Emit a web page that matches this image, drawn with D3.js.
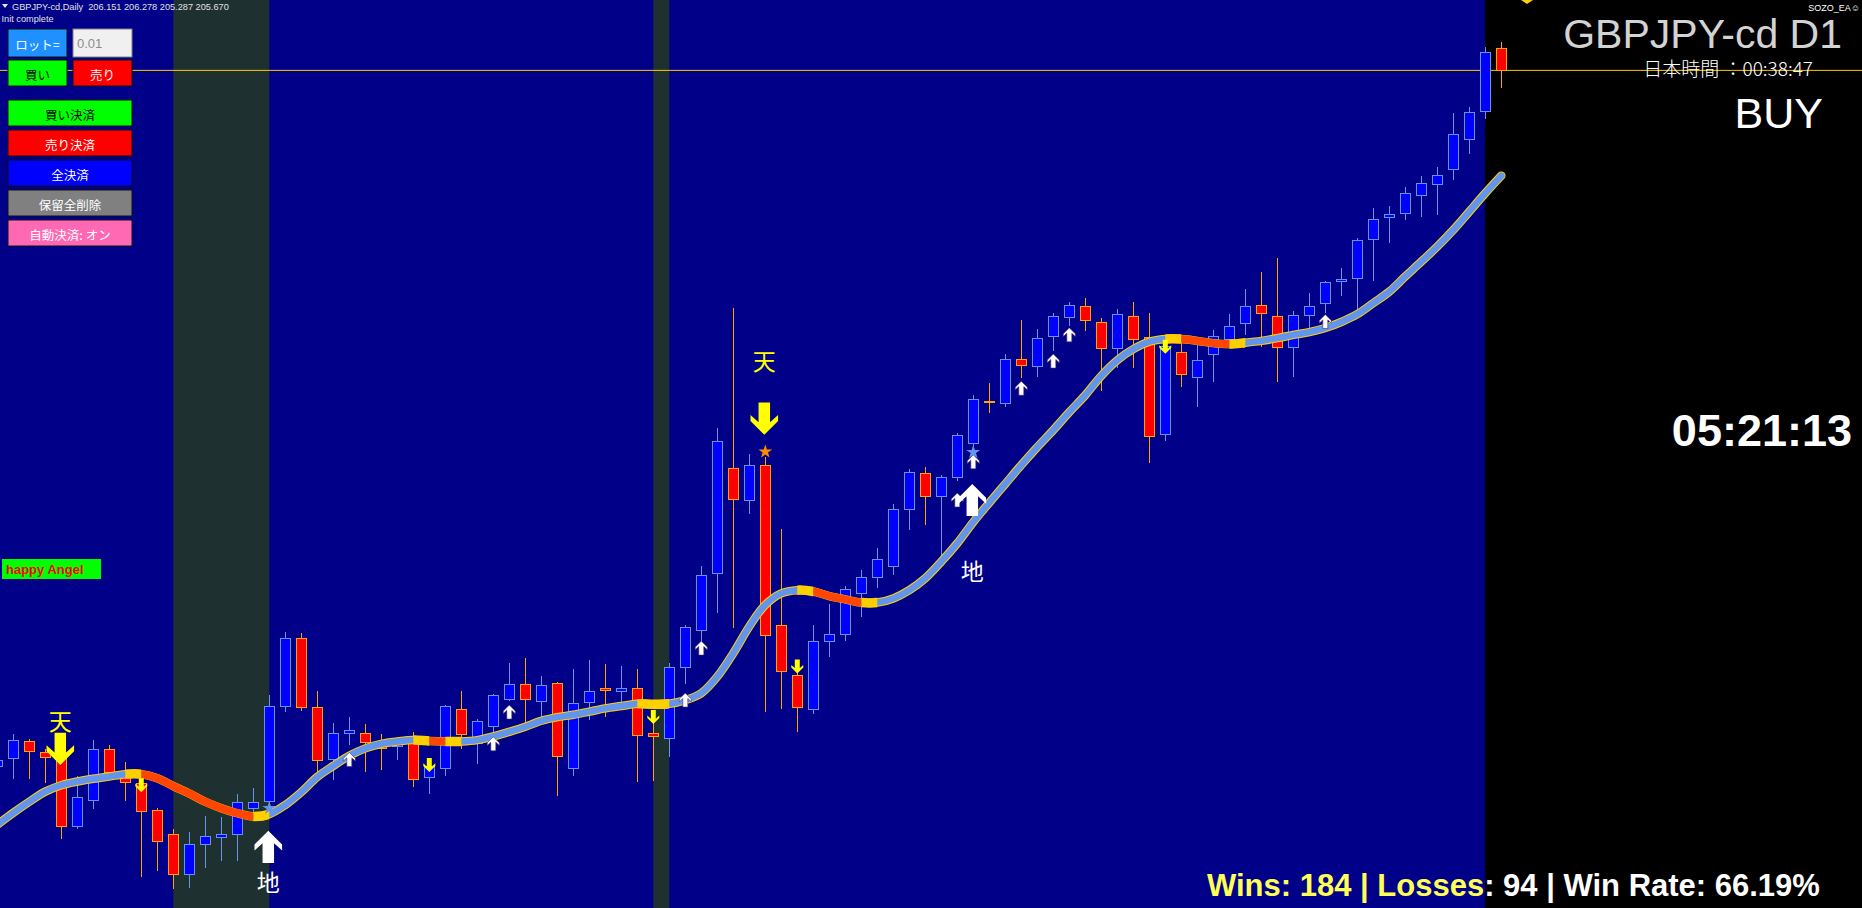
<!DOCTYPE html>
<html><head><meta charset="utf-8">
<script src="https://cdn.jsdelivr.net/npm/d3@7"></script>
<style>
html,body{margin:0;padding:0;background:#000;overflow:hidden;}
svg{display:block;}
</style></head><body>
<svg id="c" width="1862" height="908"></svg>
<script>
// ---------------- DATA ----------------
const symbolTitle = "GBPJPY-cd,Daily";
const lastOHLC = ["206.151", "206.278", "205.287", "205.670"];
const bidPrice = 205.670;
const firstBar = -1, lastBar = 93;
const opens = [190.53,190.71,191.09,190.85,190.72,189.23,189.80,190.91,190.32,190.17,189.58,189.06,188.19,188.85,189.00,189.06,189.63,189.78,191.85,193.32,191.82,190.69,191.26,191.26,191.08,190.97,191.04,190.30,190.50,191.78,191.04,191.40,192.00,192.32,191.95,192.35,190.50,191.93,192.24,192.17,192.24,191.26,191.15,192.69,193.50,194.74,197.02,196.32,197.09,193.61,192.52,191.78,193.26,193.41,194.30,194.65,194.89,196.13,196.91,196.41,196.82,197.56,198.48,198.43,199.39,199.24,199.89,200.30,200.54,200.19,199.63,200.32,199.87,197.76,199.54,199.00,199.50,199.82,200.17,200.56,200.32,199.65,200.35,200.60,201.08,201.15,202.00,202.48,202.56,202.95,203.19,203.52,204.17,204.78,206.151];
const highs = [190.74,191.24,191.13,190.92,190.85,190.32,191.11,191.00,190.63,190.26,189.63,189.18,189.11,189.45,189.43,189.93,190.06,192.08,193.46,193.44,192.18,191.48,191.61,191.46,191.24,191.16,191.29,190.55,191.87,192.18,191.57,192.11,192.79,192.89,192.50,192.37,192.66,192.85,192.77,192.72,192.66,191.55,192.79,193.61,194.90,197.89,200.50,197.33,197.27,195.69,192.79,193.61,194.06,194.46,194.81,195.28,196.24,197.00,197.04,196.87,197.79,198.61,198.87,199.50,200.24,200.04,200.40,200.63,200.72,200.28,200.48,200.63,200.39,199.91,199.87,199.70,200.02,200.37,200.92,201.29,201.59,200.43,200.83,201.09,201.37,202.02,202.67,202.72,203.13,203.37,203.56,204.74,204.87,206.17,206.278];
const lows = [190.40,190.27,190.27,190.17,188.95,189.17,189.62,190.24,189.78,188.14,188.27,187.87,187.89,188.32,188.49,188.49,189.55,189.59,191.73,191.75,190.40,190.24,191.00,190.42,190.46,190.68,190.08,189.94,190.34,190.92,190.59,191.29,191.95,191.48,191.62,189.90,190.34,191.55,191.61,191.82,190.21,190.23,190.75,192.33,193.25,193.88,193.54,196.02,191.72,191.78,191.28,191.67,192.91,193.26,193.78,194.41,194.69,195.67,195.78,195.10,196.74,197.45,198.22,198.35,198.98,199.01,199.58,200.12,200.01,198.71,199.19,199.19,197.14,197.62,198.79,198.35,198.89,199.74,199.91,199.65,198.89,199.01,200.06,200.40,200.77,200.46,201.10,201.92,202.41,202.49,202.53,203.28,203.86,204.61,205.287];
const closes = [190.66,191.11,190.87,190.74,189.24,189.87,190.91,190.40,190.19,189.56,188.91,188.19,188.85,189.02,189.06,189.76,189.76,191.85,193.32,191.82,190.67,191.26,191.31,191.05,190.92,191.11,190.26,190.53,191.85,191.23,191.52,192.08,192.32,192.00,192.30,190.76,191.91,192.17,192.19,192.24,191.22,191.19,192.69,193.56,194.69,197.61,196.35,197.09,193.39,192.61,191.82,193.26,193.41,194.39,194.65,195.04,196.13,196.93,196.41,196.82,197.74,198.52,198.45,199.39,199.26,199.85,200.32,200.56,200.24,199.63,200.37,199.82,197.72,199.66,199.06,199.37,199.89,200.11,200.54,200.39,199.65,200.35,200.54,201.06,201.13,201.98,202.43,202.54,203.00,203.22,203.39,204.28,204.76,206.06,205.670];
const maValues = [189.27,189.53,189.77,189.99,190.13,190.21,190.27,190.32,190.37,190.37,190.28,190.11,189.95,189.77,189.63,189.52,189.45,189.50,189.70,189.98,190.31,190.55,190.77,190.93,191.03,191.08,191.11,191.09,191.08,191.08,191.11,191.19,191.29,191.40,191.53,191.61,191.66,191.73,191.80,191.85,191.90,191.89,191.90,191.98,192.13,192.49,193.00,193.58,194.05,194.30,194.37,194.34,194.24,194.17,194.10,194.10,194.19,194.37,194.63,194.99,195.39,195.85,196.27,196.68,197.09,197.48,197.85,198.24,198.61,199.03,199.37,199.61,199.77,199.83,199.83,199.79,199.74,199.72,199.75,199.79,199.85,199.92,199.98,200.07,200.20,200.37,200.61,200.86,201.19,201.51,201.84,202.20,202.60,203.00,203.38];
const maFlatBars = [8,16,26,28,40,41,50,54,73,77];
const maDownBars = [9,10,11,12,13,14,15,27,51,52,53,74,75,76];
const shadeBands = [[10,16],[40,41]];
const smallUpBars = [21,30,31,42,43,59,60,63,65,66,82];
const smallUpPrices = [190.69,191.03,191.72,191.98,193.11,196.33,197.16,198.76,199.35,199.92,200.21];
const smallDownBars = [8,26,40,49,72];
const smallDownPrices = [190.13,190.57,191.61,192.71,199.66];
const bigDownBars = [3,47];
const bigDownPrices = [190.92,198.10];
const tenLabelPrices = [191.55,199.37];
const bigUpBars = [16,60];
const bigUpPrices = [188.79,196.33];
const chiLabelPrices = [188.04,194.81];
const starBars = [16,47,60];
const starPrices = [189.63,197.38,197.37];
const starKinds = ["buy","sell","buy"];
const buttonLabels = ["ロット=","買い","売り","買い決済","売り決済","全決済","保留全削除","自動決済: オン"];
const lotValue = "0.01";
const statsText = "Wins: 184 | Losses: 94 | Win Rate: 66.19%";
const countdown = "05:21:13";
const titleText = "GBPJPY-cd D1";
const jpTime = "日本時間 ：00:38:47";
const signalText = "BUY";

// ---------------- DRAW ----------------
const W = 1862, H = 908;
const svg = d3.select('#c');
const x = d3.scaleLinear().domain([-1, 93]).range([-2.7, 1501.3]);
const y = d3.scaleLinear().domain([187.46, 207.20]).range([H, 0]);
const panelX = 1485;

svg.append('rect').attr('width', W).attr('height', H).attr('fill', '#000088');
svg.append('rect').attr('x', panelX).attr('width', W - panelX).attr('height', H).attr('fill', '#000000');

// shaded bands
svg.append('g').selectAll('rect').data(shadeBands).join('rect')
  .attr('x', d => x(d[0])).attr('width', d => x(d[1]) - x(d[0]))
  .attr('y', 0).attr('height', H).attr('fill', '#1e3030');

// bid line
svg.append('line').attr('x1', 0).attr('x2', W).attr('y1', y(bidPrice)).attr('y2', y(bidPrice))
  .attr('stroke', '#ffc800').attr('stroke-width', 1);

// candles
const bars = d3.range(firstBar, lastBar + 1).map((b, k) => ({b, o: opens[k], h: highs[k], l: lows[k], c: closes[k]}));
const cg = svg.append('g').attr('shape-rendering', 'crispEdges');
cg.selectAll('line').data(bars).join('line')
  .attr('x1', d => Math.round(x(d.b)) + 0.5).attr('x2', d => Math.round(x(d.b)) + 0.5)
  .attr('y1', d => y(d.h)).attr('y2', d => y(d.l))
  .attr('stroke', d => d.c >= d.o ? '#6495ed' : '#ffa500');
cg.selectAll('rect').data(bars).join('rect')
  .attr('x', d => Math.round(x(d.b)) - 4.5).attr('width', 10)
  .attr('y', d => y(Math.max(d.o, d.c)))
  .attr('height', d => Math.max(1, Math.abs(y(d.o) - y(d.c))))
  .attr('fill', d => d.c >= d.o ? '#0000ff' : '#ff0000')
  .attr('stroke', d => d.c >= d.o ? '#6495ed' : '#ffa500').attr('stroke-width', 1);

// moving average
const maPts = d3.range(firstBar, lastBar + 1).map((b, k) => ({b, v: maValues[k]}));
const maLine = d3.line().x(d => x(d.b)).y(d => y(d.v)).curve(d3.curveCatmullRom);
const defs = svg.append('defs');
function clipFor(id, list) {
  const cp = defs.append('clipPath').attr('id', id);
  list.forEach(b => cp.append('rect').attr('x', x(b - 1)).attr('width', x(b) - x(b - 1)).attr('y', 0).attr('height', H));
}
clipFor('clipFlat', maFlatBars);
clipFor('clipDown', maDownBars);
const mg = svg.append('g').attr('fill', 'none').attr('stroke-linecap', 'round').attr('stroke-linejoin', 'round');
mg.append('path').attr('d', maLine(maPts)).attr('stroke', '#ffd000').attr('stroke-width', 8.5);
mg.append('path').attr('d', maLine(maPts)).attr('stroke', '#6495ed').attr('stroke-width', 6.5);
mg.append('path').attr('d', maLine(maPts)).attr('stroke', '#ffd000').attr('stroke-width', 9.5).attr('clip-path', 'url(#clipFlat)').attr('stroke-linecap', 'butt');
mg.append('path').attr('d', maLine(maPts)).attr('stroke', '#ff4500').attr('stroke-width', 8).attr('clip-path', 'url(#clipDown)').attr('stroke-linecap', 'butt');

// arrows
function arrowPath(s) {
  return `M0,${-7*s} L${6*s},${-1*s} L${6*s},${1.6*s} L${2.5*s},${-1.6*s} L${2.5*s},${7*s} L${-2.5*s},${7*s} L${-2.5*s},${-1.6*s} L${-6*s},${1.6*s} L${-6*s},${-1*s} Z`;
}
const ag = svg.append('g');
ag.selectAll('path.su').data(smallUpBars).join('path').attr('class', 'su')
  .attr('d', arrowPath(1)).attr('fill', '#ffffff').attr('stroke', '#3a2a6a').attr('stroke-width', 0.6)
  .attr('transform', (b, i) => `translate(${x(b)},${y(smallUpPrices[i])})`);
ag.selectAll('path.sd').data(smallDownBars).join('path').attr('class', 'sd')
  .attr('d', arrowPath(1)).attr('fill', '#ffff00')
  .attr('transform', (b, i) => `translate(${x(b)},${y(smallDownPrices[i])}) rotate(180)`);
ag.selectAll('path.bu').data(bigUpBars).join('path').attr('class', 'bu')
  .attr('d', arrowPath(2.3)).attr('fill', '#ffffff')
  .attr('transform', (b, i) => `translate(${x(b) - 1},${y(bigUpPrices[i])})`);
ag.selectAll('path.bd').data(bigDownBars).join('path').attr('class', 'bd')
  .attr('d', arrowPath(2.3)).attr('fill', '#ffff00')
  .attr('transform', (b, i) => `translate(${x(b) - 1},${y(bigDownPrices[i])}) rotate(180)`);
ag.selectAll('path.st').data(starBars).join('path').attr('class', 'st')
  .attr('d', d3.symbol(d3.symbolStar, 60)())
  .attr('fill', (b, i) => starKinds[i] === 'sell' ? '#ff8c00' : '#6495ed')
  .attr('transform', (b, i) => `translate(${x(b)},${y(starPrices[i])})`);
ag.selectAll('text.ten').data(bigDownBars).join('text').attr('class', 'ten')
  .attr('x', b => x(b) - 1).attr('y', (b, i) => y(tenLabelPrices[i]))
  .attr('text-anchor', 'middle').attr('dominant-baseline', 'central')
  .attr('font-family', '"Noto Sans CJK JP"').attr('font-size', 23).attr('fill', '#ffff00').text('天');
ag.selectAll('text.chi').data(bigUpBars).join('text').attr('class', 'chi')
  .attr('x', b => x(b) - 1).attr('y', (b, i) => y(chiLabelPrices[i]))
  .attr('text-anchor', 'middle').attr('dominant-baseline', 'central')
  .attr('font-family', '"Noto Sans CJK JP"').attr('font-size', 23).attr('fill', '#ffffff').text('地');
// partially visible marker at top
ag.append('path').attr('d', 'M1521,0 L1533,0 L1527,4 Z').attr('fill', '#ffd000');

// header texts
const hg = svg.append('g').attr('font-family', '"Liberation Sans", Arial, sans-serif');
hg.append('path').attr('d', 'M2,4 L8,4 L5,8 Z').attr('fill', '#e8e8e8');
hg.append('text').attr('x', 12).attr('y', 9.5).attr('font-size', 9.2).attr('fill', '#e0e0e0')
  .attr('xml:space', 'preserve').text(symbolTitle + '  ' + lastOHLC.join(' '));
hg.append('text').attr('x', 1.5).attr('y', 22).attr('font-size', 9.2).attr('fill', '#e0e0e0').text('Init complete');

// buttons
const btns = [
  {x: 8, y: 29, w: 59, h: 28, fill: '#1e90ff', tc: '#ffffff'},
  {x: 8, y: 60, w: 59, h: 26, fill: '#00ff00', tc: '#000000'},
  {x: 73, y: 60, w: 59, h: 26, fill: '#ff0000', tc: '#ffffff'},
  {x: 8, y: 100, w: 124, h: 26, fill: '#00ff00', tc: '#000000'},
  {x: 8, y: 130, w: 124, h: 26, fill: '#ff0000', tc: '#ffffff'},
  {x: 8, y: 160, w: 124, h: 26, fill: '#0000ff', tc: '#ffffff'},
  {x: 8, y: 190, w: 124, h: 26, fill: '#808080', tc: '#ffffff'},
  {x: 8, y: 220, w: 124, h: 26, fill: '#ff69b4', tc: '#ffffff'}
];
const bg = svg.append('g');
btns.forEach((b, i) => {
  bg.append('rect').attr('x', b.x).attr('y', b.y).attr('width', b.w).attr('height', b.h)
    .attr('fill', b.fill).attr('stroke', '#101010').attr('stroke-width', 1);
  bg.append('text').attr('x', b.x + b.w / 2).attr('y', b.y + b.h / 2 + 1)
    .attr('text-anchor', 'middle').attr('dominant-baseline', 'central')
    .attr('font-family', '"Noto Sans CJK JP"').attr('font-size', 12.5).attr('fill', b.tc).text(buttonLabels[i]);
});
bg.append('rect').attr('x', 73).attr('y', 29).attr('width', 59).attr('height', 28)
  .attr('fill', '#f0f0f0').attr('stroke', '#808080').attr('stroke-width', 1);
bg.append('text').attr('x', 77).attr('y', 48).attr('font-family', '"Liberation Sans", Arial').attr('font-size', 13)
  .attr('fill', '#8c8c8c').text(lotValue);

// happy Angel label
svg.append('rect').attr('x', 2).attr('y', 559).attr('width', 99).attr('height', 20).attr('fill', '#00ff00');
svg.append('text').attr('x', 6).attr('y', 574).attr('font-family', '"Liberation Sans", Arial').attr('font-weight', 'bold')
  .attr('font-size', 13).attr('fill', '#ff0000').text('happy Angel');

// right panel texts
const rg = svg.append('g').attr('font-family', '"Liberation Sans", Arial, sans-serif');
rg.append('text').attr('x', 1842).attr('y', 48).attr('text-anchor', 'end').attr('font-size', 41).attr('fill', '#d3d3d3').text(titleText);
rg.append('text').attr('x', 1813).attr('y', 76).attr('text-anchor', 'end').attr('font-family', '"Noto Sans CJK JP"').attr('font-weight', 300)
  .attr('font-size', 19).attr('fill', '#ffffff').text(jpTime);
rg.append('text').attr('x', 1823).attr('y', 128).attr('text-anchor', 'end').attr('font-size', 43).attr('fill', '#ffffff').text(signalText);
rg.append('text').attr('x', 1860).attr('y', 11).attr('text-anchor', 'end').attr('font-size', 9).attr('fill', '#ffffff').text('SOZO_EA☺');
rg.append('text').attr('x', 1852).attr('y', 446).attr('text-anchor', 'end').attr('font-size', 45).attr('font-weight', 'bold')
  .attr('fill', '#ffffff').text(countdown);

// stats (yellow over chart, white over panel)
defs.append('clipPath').attr('id', 'clipL').append('rect').attr('x', 0).attr('y', 0).attr('width', panelX).attr('height', H);
defs.append('clipPath').attr('id', 'clipR').append('rect').attr('x', panelX).attr('y', 0).attr('width', W - panelX).attr('height', H);
[['#ffff55', 'clipL'], ['#ffffff', 'clipR']].forEach(([col, cid]) => {
  rg.append('text').attr('x', 1207).attr('y', 896).attr('font-size', 31).attr('font-weight', 'bold')
    .attr('fill', col).attr('clip-path', `url(#${cid})`).attr('xml:space', 'preserve').text(statsText);
});
</script>
</body></html>
